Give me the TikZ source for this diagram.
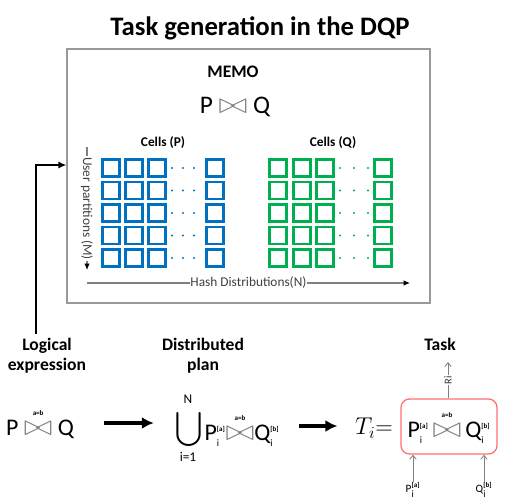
\documentclass[tikz,border=0pt]{standalone}
\usepackage{exscale}
\usepackage{graphicx}
\usepackage{fontspec}
\setmainfont{Carlito}
\usetikzlibrary{positioning,arrows.meta,calc}

\definecolor{cellblue}{RGB}{0,112,192}
\definecolor{cellgreen}{RGB}{0,176,80}
\definecolor{taskred}{RGB}{255,110,110}

% P_i^{[a]} style operands and the a=b join
\newcommand{\opnd}[3]{\ensuremath{\mbox{#1}_{\mbox{\scriptsize #2}}^{\mbox{\tiny\bfseries #3}}}}
\newcommand{\bowt}{\mbox{\color{gray}\scalebox{1.45}[1.2]{$\bowtie$}}}
\newcommand{\joinab}{\ensuremath{\mathrel{\mathop{\bowt}\limits^{\raisebox{1pt}{\tiny\bfseries a=b}}}}}

\begin{document}
\begin{tikzpicture}[
  cellb/.style={rectangle, draw=cellblue, line width=1.8pt, minimum size=0.42cm, inner sep=0pt},
  cellg/.style={cellb, draw=cellgreen},
  head/.style={font=\fontsize{12.5}{14}\selectfont\bfseries, align=center},
  expr/.style={font=\fontsize{17}{20}\selectfont, inner sep=1pt},
  small/.style={font=\fontsize{9.5}{11}\selectfont, inner sep=1pt},
  axis/.style={gray, line width=0.8pt, -{Latex[length=1.6mm, width=1.4mm, color=black]}},
  axislabel/.style={font=\fontsize{9.5}{11}\selectfont, text=black!75, fill=white, inner sep=0.5pt},
  bigarrow/.style={-{Latex[length=3mm, width=3mm]}, line width=2.3pt},
  thinarrow/.style={gray, line width=0.6pt, -{Straight Barb[length=1mm, width=1.6mm]}},
]
\useasboundingbox (0,0) rectangle (12.775,-12.575);

% === Title ===
\node[font=\fontsize{19}{22}\selectfont\bfseries] (title) at (6.5, -0.7) {Task generation in the DQP};

% === MEMO box ===
\node[draw=gray!80, line width=0.9pt, minimum width=9.075cm, minimum height=6.35cm, inner sep=0pt] (memo) at (6.2125, -4.4) {};
\node[head] (memohd) at (5.825, -1.8) {MEMO};
\node[expr, font=\fontsize{18}{20}\selectfont] (memojoin) at (5.875, -2.675) {P \bowt\ Q};

\node[font=\fontsize{9.5}{11}\selectfont\bfseries] (cellsp) at (4.075, -3.575) {Cells (P)};
\node[font=\fontsize{9.5}{11}\selectfont\bfseries] (cellsq) at (8.325, -3.575) {Cells (Q)};

% cells of P and Q, five user partitions each
\foreach \r in {0,...,4} {
  \foreach \c/\x in {1/2.775, 2/3.35, 3/3.925, 4/5.375}
    \node[cellb] (p\r\c) at (\x, {-4.2-0.5625*\r}) {};
  \foreach \c/\x in {1/6.95, 2/7.55, 3/8.125, 4/9.575}
    \node[cellg] (q\r\c) at (\x, {-4.2-0.5625*\r}) {};
  \foreach \x in {4.3, 4.575, 4.85}
    \fill[cellblue] (\x, {-4.2-0.5625*\r}) circle (0.03);
  \foreach \x in {8.5, 8.85, 9.2}
    \fill[cellgreen] (\x, {-4.2-0.5625*\r}) circle (0.03);
}

% axes
\coordinate (ut) at (2.175, -3.675);
\coordinate (ub) at (2.175, -6.75);
\coordinate (hl) at (2.175, -7.075);
\coordinate (hr) at (10.25, -7.075);
\draw[axis] (ut) -- node[axislabel, rotate=-90] (userlbl) {User partitions (M)} (ub);
\draw[axis] (hl) -- node[axislabel] (hashlbl) {Hash Distributions(N)} (hr);

% === Bottom row ===
\node[head] (logic) at (1.175, -8.9) {Logical\\expression};
\node[head] (distr) at (5.075, -8.9) {Distributed\\plan};
\node[head] (taskhd) at (11.0, -8.6) {Task};

\coordinate (feed) at (0.9, -4.125);
\draw[-{Latex[length=2mm, width=1.8mm]}, line width=1.1pt] (logic.north -| feed) -- (feed) -- (feed -| memo.west);

\node[expr] (lexpr) at (1.0, -10.575) {P \joinab\ Q};

\node[expr] (union) at (4.725, -10.725) {$\displaystyle\bigcup$};
\node[small] (unitop) at (4.7, -9.975) {N};
\node[small] (unibot) at (4.7, -11.425) {i=1};
\node[expr] (dplan) at (6.05, -10.75) {\opnd{P}{i}{[a]}\joinab\opnd{Q}{i}{[b]}};

\node[expr] (tdef) at (9.35, -10.7) {$T_{i}{=}$};

\node[expr, draw=taskred, line width=0.9pt, rounded corners=6pt, minimum width=2.4cm, minimum height=1.375cm] (task) at (11.225, -10.6625)
  {\opnd{P}{i}{[a]}\,\joinab\,\opnd{Q}{i}{[b]}};

\draw[bigarrow] ([xshift=0.7cm]lexpr.east) -- ([xshift=-0.5cm]lexpr.east -| union.west);
\draw[bigarrow] ([xshift=0.45cm]dplan.east |- 0,-10.65) -- ([xshift=-0.4cm]tdef.west |- 0,-10.65);

% output and inputs of the task
\coordinate (rtop) at (11.2, -9.05);
\draw[thinarrow] (task.north -| rtop) -- node[font=\fontsize{7.5}{8}\selectfont, fill=white, inner sep=0.5pt, rotate=90, text=black!80] (rilbl) {Ri} (rtop);

\node[font=\footnotesize, inner sep=0.5pt] (pin) at (10.325, -12.25) {\opnd{P}{i}{[a]}};
\node[font=\footnotesize, inner sep=0.5pt] (qin) at (12.1, -12.25) {\opnd{Q}{i}{[b]}};
\draw[thinarrow] (pin.north) -- (pin.north |- task.south);
\draw[thinarrow] (qin.north) -- (qin.north |- task.south);

\end{tikzpicture}
\end{document}
